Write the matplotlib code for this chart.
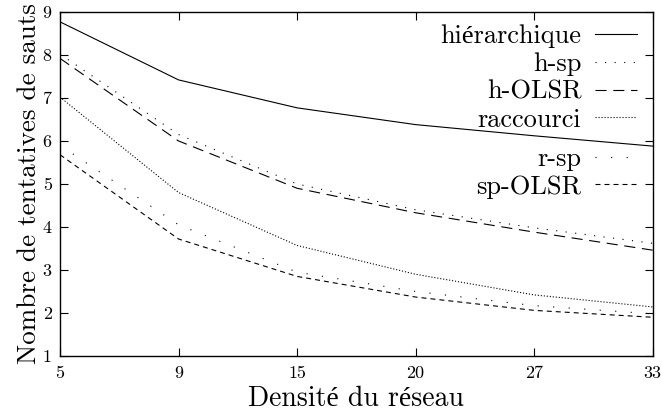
import matplotlib
matplotlib.use("Agg")
import matplotlib.pyplot as plt

plt.rcParams['font.family'] = ['cmr10', 'Liberation Serif']
plt.rcParams['mathtext.fontset'] = 'cm'
plt.rcParams['axes.unicode_minus'] = False

# densite du reseau (categorical, evenly spaced)
densites = ['5', '9', '15', '20', '27', '33']

hierarchique = [8.77, 7.42, 6.77, 6.38, 6.12, 5.88]
h_sp = [8.02, 6.15, 5.00, 4.40, 3.98, 3.62]
h_olsr = [7.92, 6.00, 4.90, 4.33, 3.88, 3.46]
raccourci = [7.02, 4.80, 3.57, 2.90, 2.42, 2.14]
r_sp = [5.90, 4.05, 2.95, 2.50, 2.17, 1.98]
sp_olsr = [5.68, 3.72, 2.85, 2.37, 2.06, 1.90]

series = [
    ('hiérarchique', hierarchique, '-'),
    ('h-sp', h_sp, (0, (1, 7.6))),
    ('h-OLSR', h_olsr, (0, (10, 6))),
    ('raccourci', raccourci, (0, (1, 1.7))),
    ('r-sp', r_sp, (0, (1, 13))),
    ('sp-OLSR', sp_olsr, (0, (4.5, 3.6))),
]

fig = plt.figure(figsize=(6.62, 4.12), dpi=100)
ax = fig.add_axes([0.0906, 0.136, 0.8954, 0.835])

x = list(range(len(densites)))
handles = []
for name, vals, ls in series:
    l, = ax.plot(x, vals, color='black', linewidth=0.8, linestyle=ls, label=name)
    handles.append(l)

ax.set_xlim(0, len(densites) - 1)
ax.set_ylim(1, 9)
ax.set_xticks(x)
ax.set_xticklabels(densites)
ax.set_yticks(range(1, 10))
ax.tick_params(direction='in', top=True, right=True, length=5.8, width=0.8,
               labelsize=13)
ax.tick_params(axis='x', pad=7)
ax.tick_params(axis='y', pad=6)
for s in ax.spines.values():
    s.set_linewidth(1.0)

ax.set_xlabel('Densité du réseau', fontsize=20, labelpad=3)
ax.set_ylabel('Nombre de tentatives de sauts', fontsize=19.5, labelpad=1)

leg_kw = dict(loc='upper right', frameon=False, markerfirst=False, fontsize=19,
              handlelength=1.6, labelspacing=0.15, handletextpad=0.5,
              borderaxespad=0, borderpad=0, bbox_transform=fig.transFigure)
# the original legend has an extra gap between raccourci and r-sp
leg1 = ax.legend(handles[:4], [h.get_label() for h in handles[:4]],
                 bbox_to_anchor=(0.962, 0.94), **leg_kw)
ax.add_artist(leg1)
ax.legend(handles[4:], [h.get_label() for h in handles[4:]],
          bbox_to_anchor=(0.962, 0.643), **leg_kw)

fig.savefig('out.png', dpi=100)
